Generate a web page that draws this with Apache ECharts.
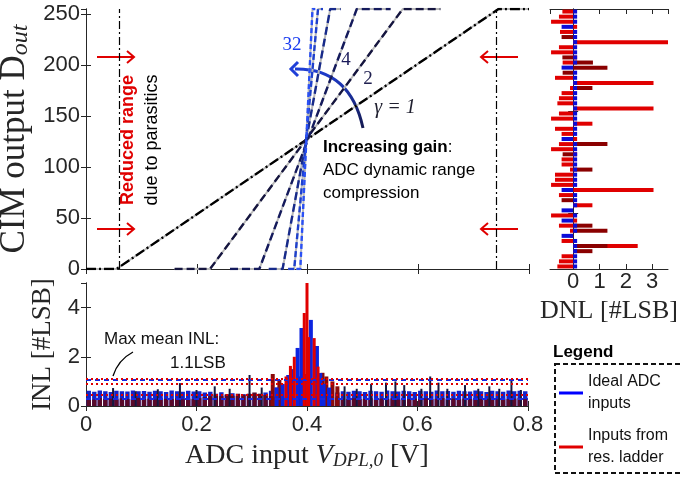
<!DOCTYPE html>
<html><head><meta charset="utf-8">
<script src="https://cdn.jsdelivr.net/npm/echarts@6/dist/echarts.min.js"></script>
<style>html,body{margin:0;padding:0;background:#fff}#c{width:683px;height:480px}</style>
</head><body><div id="c"></div>
<script>
// ---------- DATA ----------
// Transfer curves [ADC input V, D_out] for each gain gamma
const curveG1  = [[0, 0], [0.055, 0], [0.745, 255], [0.8, 255]];
const curveG2  = [[0.16, 0], [0.224, 0], [0.572, 255], [0.64, 255]];
const curveG4  = [[0.26, 0], [0.313, 0], [0.489, 255], [0.55, 255]];
const curveG8  = [[0.33, 0], [0.355, 0], [0.441, 255], [0.46, 255]];
const curveG16 = [[0.365, 0], [0.376, 0], [0.419, 255], [0.428, 255]];
const curveG32 = [[0.38, 0], [0.387, 0], [0.409, 255], [0.414, 255]];
const reducedRangeEdges = [0.055, 0.745];

// DNL rows (code groups, top to bottom)
const dnlCodes = [0,5,10,15,20,25,30,35,40,45,50,55,60,65,70,75,80,85,90,95,100,105,110,115,120,125,130,135,140,145,150,155,160,165,170,175,180,185,190,195,200,205,210,215,220,225,230,235,240,245,250];
const dnlLadder = [-0.41,-0.54,-0.84,0.15,-0.5,0,3.7,-0.54,-0.84,0.15,-0.4,0,0,-0.69,3.05,-0.12,-0.44,-0.54,-0.6,3.05,-0.54,-0.84,0.73,-0.69,-0.44,0.15,-0.54,-0.84,0.15,-0.44,-0.44,-0.12,-0.69,-0.69,-0.84,3.05,-0.54,0,0.73,0,-0.84,0.15,-0.54,-0.12,-0.12,-0.44,2.45,0,-0.44,-0.54,-0.6];
const dnlLadderDark = [0,0,0,0,0,-0.44,0,0,0,-0.41,0.75,1.3,-0.4,0,0,0.73,0,0,0,0,0,0,0,0,0,0,1.3,0,-0.4,0,0,0.73,0,0,0,0,0,-0.44,0,0,0,0,0.73,1.3,0,0,1.3,0.73,0,0,0];
const dnlIdeal = [0.15,0.15,0.15,-0.44,0.15,0.15,0.15,0.15,0.15,0.15,0.15,-0.44,0.15,0.15,0.15,0.15,0.15,0.15,0.15,0.15,0.15,0.15,0.15,0.15,0.15,-0.44,0.15,0.15,0.15,0.15,0.15,0.15,0.15,0.15,0.15,-0.44,0.15,0.15,0.15,-0.44,0.15,-0.44,0.15,0.15,-0.44,0.15,0.15,0.15,0.15,0.15,0.15];

// INL: background band per 10 mV bin
const inlBandIdeal = [0.62,0.58,0.63,0.6,0.57,0.62,0.6,0.59,0.63,0.6,
  0.61,0.58,0.62,0.6,0.57,0.63,0.6,0.58,0.62,0.59,
  0.6,0.55,0.58,0.5,0.56,0.45,0.52,0.4,0.48,0.42,
  0.5,0.45,0.55,0.62,0.75,0.85,1.0,1.1,1.2,1.3,
  1.2,1.05,0.85,0.7,0.62,0.55,0.6,0.58,0.62,0.6,
  0.57,0.62,0.6,0.58,0.63,0.6,0.59,0.62,0.6,0.57,
  0.62,0.6,0.58,0.63,0.6,0.61,0.58,0.62,0.6,0.59,
  0.63,0.6,0.57,0.62,0.6,0.58,0.63,0.6,0.62,0.6];
const inlBandLadder = [0.3,0.26,0.32,0.28,0.3,0.27,0.31,0.28,0.29,0.33,
  0.28,0.3,0.26,0.32,0.29,0.28,0.31,0.27,0.3,0.28,
  0.32,0.36,0.4,0.44,0.4,0.48,0.42,0.5,0.46,0.5,
  0.55,0.5,0.45,0.4,0.38,0.35,0.32,0.3,0.28,0.28,
  0.32,0.36,0.4,0.42,0.38,0.34,0.3,0.28,0.31,0.28,
  0.29,0.32,0.27,0.3,0.28,0.31,0.26,0.3,0.28,0.3,
  0.27,0.31,0.28,0.29,0.32,0.28,0.3,0.27,0.3,0.28,
  0.31,0.28,0.29,0.32,0.27,0.3,0.28,0.3,0.33,0.28];
const inlSpikes = [[0.049,0.73],[0.09,0.6],[0.13,0.68],[0.17,0.93],[0.2,0.65],[0.233,0.8],[0.26,0.7],[0.296,1.26],[0.318,0.75],[0.468,0.8],[0.49,0.7],[0.516,0.9],[0.543,0.95],[0.56,1.0],[0.576,0.85],[0.607,0.7],[0.623,1.2],[0.638,0.95],[0.654,0.7],[0.686,0.85],[0.71,0.7],[0.73,0.8],[0.748,0.7],[0.77,1.05],[0.787,0.65]];
const inlPeakIdeal = [[0.345,0.75],[0.356,0.9],[0.366,1.26],[0.372,1.5],[0.383,2.36],[0.39,3.17],[0.407,3.5],[0.418,2.44],[0.424,1.34],[0.43,0.9],[0.44,0.75]];
const inlPeakLadder = [[0.362,1.2],[0.37,1.63],[0.377,2.0],[0.395,3.78],[0.4,5.2],[0.403,2.8],[0.413,2.76],[0.42,1.6]];
const inlPeakLadderDark = [[0.338,1.3],[0.35,1.06],[0.428,1.35],[0.435,1.2],[0.446,1.0],[0.455,0.8]];
const meanInlLadder = [1.1, 0.89, 0.47];
const meanInlIdeal = [1.06, 0.3];

// ---------- CHART ----------
const axisCol = '#262626';
const tickFont = {fontFamily: 'Liberation Sans', fontSize: 22, color: axisCol};
function valAxis(extra) {
  return Object.assign({
    type: 'value', splitLine: {show: false},
    axisLine: {show: true, lineStyle: {color: axisCol, width: 1}},
    axisTick: {show: true, inside: true, length: 5, lineStyle: {color: axisCol}},
    axisLabel: Object.assign({show: false}, tickFont)
  }, extra);
}
const curveStyles = [
  {name: 'γ = 1', data: curveG1, color: '#000000', dash: [10, 3, 2, 3]},
  {name: 'γ = 2', data: curveG2, color: '#15153f', dash: [8, 4]},
  {name: 'γ = 4', data: curveG4, color: '#141a5c', dash: [8, 4]},
  {name: 'γ = 8', data: curveG8, color: '#172a8a', dash: [8, 4]},
  {name: 'γ = 16', data: curveG16, color: '#1e40cc', dash: [6, 3]},
  {name: 'γ = 32', data: curveG32, color: '#2a50f5', dash: [5, 3]}
];
const bandCenters = inlBandIdeal.map((_, i) => +(0.005 + 0.01 * i).toFixed(3));

const series = [];
curveStyles.forEach((c, i) => {
  const s = {type: 'line', name: c.name + ' ref', xAxisIndex: 0, yAxisIndex: 0, data: c.data, symbol: 'none',
    silent: true, lineStyle: {color: '#b8b8b8', width: 2}, z: 2};
  if (i === 0) {
    s.markLine = {symbol: 'none', silent: true, label: {show: false},
      lineStyle: {color: '#000', width: 1.2, type: [8, 3, 2, 3]},
      data: reducedRangeEdges.map(v => ({xAxis: v}))};
  }
  series.push(s);
});
curveStyles.forEach(c => {
  series.push({type: 'line', name: c.name, xAxisIndex: 0, yAxisIndex: 0, data: c.data, symbol: 'none',
    lineStyle: {color: c.color, width: 2.4, type: c.dash}, z: 3});
});
// DNL
series.push({type: 'bar', name: 'Inputs from res. ladder', xAxisIndex: 2, yAxisIndex: 2, data: dnlLadder, barWidth: 4, barGap: '-100%', clip: true, itemStyle: {color: '#e00000'}});
series.push({type: 'bar', name: 'Inputs from res. ladder', xAxisIndex: 2, yAxisIndex: 2, data: dnlLadderDark, barWidth: 4, barGap: '-100%', clip: true, itemStyle: {color: '#8a0000'}});
series.push({type: 'bar', name: 'Ideal ADC inputs', xAxisIndex: 2, yAxisIndex: 2, data: dnlIdeal, barWidth: 4, barGap: '-100%', clip: true, itemStyle: {color: '#0a0ad8'}});
// INL band
series.push({type: 'bar', name: 'Ideal ADC inputs', xAxisIndex: 4, yAxisIndex: 4, data: bandCenters.map((x, i) => [x, inlBandIdeal[i]]), barWidth: 4.4, barGap: '-100%', clip: true, itemStyle: {color: '#1422c8'}});
series.push({type: 'bar', name: 'Inputs from res. ladder', xAxisIndex: 4, yAxisIndex: 4, data: bandCenters.map((x, i) => [x, inlBandLadder[i]]), barWidth: 4.4, barGap: '-100%', clip: true, itemStyle: {color: '#5a0a2a'}});
series.push({type: 'bar', name: 'INL spikes', xAxisIndex: 6, yAxisIndex: 4, data: inlSpikes, barWidth: 2, clip: true, itemStyle: {color: '#16163e'}});
series.push({type: 'bar', name: 'Inputs from res. ladder', xAxisIndex: 7, yAxisIndex: 4, data: inlPeakLadderDark, barWidth: 4, barGap: '-100%', clip: true, itemStyle: {color: '#8a0a0a'}});
series.push({type: 'bar', name: 'Ideal ADC inputs', xAxisIndex: 7, yAxisIndex: 4, data: inlPeakIdeal, barWidth: 4, barGap: '-100%', clip: true, itemStyle: {color: '#0c24e0'}});
series.push({type: 'bar', name: 'Inputs from res. ladder', xAxisIndex: 8, yAxisIndex: 4, data: inlPeakLadder, barWidth: 3, clip: true, itemStyle: {color: '#e00000'}});
series.push({type: 'line', name: 'mean INL ideal', xAxisIndex: 4, yAxisIndex: 4, data: [], z: 5,
  markLine: {symbol: 'none', silent: true, label: {show: false}, lineStyle: {color: '#1a28e0', width: 2.2, type: [5, 4]},
    data: meanInlIdeal.map(v => ({yAxis: v}))}});
series.push({type: 'line', name: 'mean INL ladder', xAxisIndex: 4, yAxisIndex: 4, data: [], z: 6,
  markLine: {symbol: 'none', silent: true, label: {show: false}, lineStyle: {color: '#e00000', width: 2.2, type: [2, 3]},
    data: meanInlLadder.map(v => ({yAxis: v}))}});

const dnlTickFn = (i) => i === 20 || i === 40;
const serif = 'Liberation Serif';

const option = {
  animation: false,
  backgroundColor: '#ffffff',
  grid: [
    {left: 86, top: 9, width: 443, height: 260, containLabel: false, outerBoundsMode: 'none'},
    {left: 550, top: 9, width: 118, height: 260, containLabel: false, outerBoundsMode: 'none'},
    {left: 86, top: 283, width: 442, height: 123, containLabel: false, outerBoundsMode: 'none'}
  ],
  xAxis: [
    valAxis({gridIndex: 0, min: 0, max: 0.8, interval: 0.2, position: 'bottom'}),
    valAxis({gridIndex: 0, min: 0, max: 0.8, interval: 0.2, position: 'top'}),
    valAxis({gridIndex: 1, min: -0.88, max: 3.6, position: 'bottom',
      axisLabel: Object.assign({show: true, margin: 2, showMinLabel: false, showMaxLabel: false}, tickFont),
      name: 'DNL [#LSB]', nameLocation: 'middle', nameGap: 26,
      nameTextStyle: {fontFamily: serif, fontSize: 26, color: axisCol}}),
    valAxis({gridIndex: 1, min: -0.88, max: 3.6, position: 'top'}),
    valAxis({gridIndex: 2, min: 0, max: 0.8, interval: 0.2, position: 'bottom',
      axisLabel: Object.assign({show: true, margin: 8}, tickFont),
      name: 'ADC input {it|V}{sub|DPL,0} [V]', nameLocation: 'middle', nameGap: 36,
      nameTextStyle: {fontFamily: serif, fontSize: 28, color: axisCol,
        rich: {it: {fontFamily: serif, fontSize: 28, fontStyle: 'italic', color: axisCol},
               sub: {fontFamily: serif, fontSize: 19, fontStyle: 'italic', color: axisCol, verticalAlign: 'bottom', lineHeight: 14}}}}),
    valAxis({gridIndex: 2, min: 0, max: 0.8, interval: 0.2, position: 'top'}),
    {type: 'value', gridIndex: 2, min: 0, max: 0.8, show: false},
    {type: 'value', gridIndex: 2, min: 0, max: 0.8, show: false},
    {type: 'value', gridIndex: 2, min: 0, max: 0.8, show: false}
  ],
  yAxis: [
    valAxis({gridIndex: 0, min: 0, max: 255, interval: 50, position: 'left',
      axisLabel: Object.assign({show: true, margin: 6}, tickFont),
      name: 'CIM output D{sub|out}', nameLocation: 'middle', nameGap: 50, nameRotate: 90,
      nameTextStyle: {fontFamily: serif, fontSize: 35, color: axisCol,
        rich: {sub: {fontFamily: serif, fontSize: 24, fontStyle: 'italic', color: axisCol, verticalAlign: 'bottom', lineHeight: 16}}}}),
    valAxis({gridIndex: 0, min: 0, max: 255, interval: 50, position: 'right'}),
    {type: 'category', gridIndex: 1, data: dnlCodes, inverse: true, position: 'left',
      axisLine: {show: true, lineStyle: {color: axisCol}}, axisLabel: {show: false},
      axisTick: {show: true, inside: true, length: 5, interval: dnlTickFn, lineStyle: {color: axisCol}}},
    {type: 'category', gridIndex: 1, data: dnlCodes, inverse: true, position: 'right',
      axisLine: {show: true, lineStyle: {color: axisCol}}, axisLabel: {show: false},
      axisTick: {show: true, inside: true, length: 5, interval: dnlTickFn, lineStyle: {color: axisCol}}},
    valAxis({gridIndex: 2, min: 0, max: 5, interval: 2, position: 'left',
      axisLabel: Object.assign({show: true, margin: 6, showMaxLabel: false}, tickFont),
      name: 'INL [#LSB]', nameLocation: 'middle', nameGap: 30, nameRotate: 90,
      nameTextStyle: {fontFamily: serif, fontSize: 27, color: axisCol}}),
    valAxis({gridIndex: 2, min: 0, max: 5, interval: 2, position: 'right'})
  ],
  legend: {
    left: 559, top: 371, orient: 'vertical', padding: 0, itemGap: 10,
    itemWidth: 24, itemHeight: 3, icon: 'rect', selectedMode: false,
    textStyle: {fontFamily: 'Liberation Sans', fontSize: 16, lineHeight: 22, color: '#111'},
    formatter: n => n === 'Ideal ADC inputs' ? 'Ideal ADC\ninputs' : 'Inputs from\nres. ladder',
    data: [{name: 'Ideal ADC inputs', itemStyle: {color: '#0000ff'}},
           {name: 'Inputs from res. ladder', itemStyle: {color: '#e00000'}}]
  },
  graphic: [
    {type: 'polyline', shape: {points: [[97, 57], [134, 57]]}, style: {stroke: '#e00000', lineWidth: 2}},
    {type: 'polyline', shape: {points: [[127, 51], [134, 57], [127, 63]]}, style: {stroke: '#e00000', lineWidth: 2, fill: 'none'}},
    {type: 'polyline', shape: {points: [[97, 229], [134, 229]]}, style: {stroke: '#e00000', lineWidth: 2}},
    {type: 'polyline', shape: {points: [[127, 223], [134, 229], [127, 235]]}, style: {stroke: '#e00000', lineWidth: 2, fill: 'none'}},
    {type: 'polyline', shape: {points: [[518, 57], [481, 57]]}, style: {stroke: '#e00000', lineWidth: 2}},
    {type: 'polyline', shape: {points: [[488, 51], [481, 57], [488, 63]]}, style: {stroke: '#e00000', lineWidth: 2, fill: 'none'}},
    {type: 'polyline', shape: {points: [[518, 229], [481, 229]]}, style: {stroke: '#e00000', lineWidth: 2}},
    {type: 'polyline', shape: {points: [[488, 223], [481, 229], [488, 235]]}, style: {stroke: '#e00000', lineWidth: 2, fill: 'none'}},
    {type: 'text', x: 128, y: 140, rotation: Math.PI / 2,
      style: {text: 'Reduced range', x: 0, y: 0, fill: '#e00000', font: 'bold 18px "Liberation Sans"', textAlign: 'center', textVerticalAlign: 'middle'}},
    {type: 'text', x: 152, y: 140, rotation: Math.PI / 2,
      style: {text: 'due to parasitics', x: 0, y: 0, fill: '#000', font: '18px "Liberation Sans"', textAlign: 'center', textVerticalAlign: 'middle'}},
    {type: 'text', style: {text: '32', x: 292, y: 45, fill: '#1a3cf0', font: '19px "Liberation Serif"', textAlign: 'center', textVerticalAlign: 'middle'}},
    {type: 'text', style: {text: '4', x: 346, y: 60, fill: '#1a1a5a', font: '19px "Liberation Serif"', textAlign: 'center', textVerticalAlign: 'middle'}},
    {type: 'text', style: {text: '2', x: 368, y: 79, fill: '#202050', font: '19px "Liberation Serif"', textAlign: 'center', textVerticalAlign: 'middle'}},
    {type: 'text', style: {text: 'γ = 1', x: 395, y: 108, fill: '#202030', font: 'italic 20px "Liberation Serif"', textAlign: 'center', textVerticalAlign: 'middle'}},
    {type: 'bezierCurve', shape: {x1: 363, y1: 128, cpx1: 350, cpy1: 68, x2: 295, y2: 69},
      style: {stroke: {type: 'linear', x: 0, y: 1, x2: 0, y2: 0, colorStops: [{offset: 0, color: '#14184a'}, {offset: 1, color: '#1f3fd8'}]}, lineWidth: 3, fill: 'none'}},
    {type: 'polyline', shape: {points: [[298, 62], [291, 69], [298, 76]]}, style: {stroke: '#1f3fd8', lineWidth: 3, fill: 'none'}},
    {type: 'text', style: {text: '{b|Increasing gain}:\nADC dynamic range\ncompression', x: 323, y: 136,
      fill: '#000', font: '17px "Liberation Sans"', lineHeight: 23, textAlign: 'left', textVerticalAlign: 'top',
      rich: {b: {fontWeight: 'bold', fontSize: 17, fontFamily: 'Liberation Sans', fill: '#000'}}}},
    {type: 'text', style: {text: 'Max mean INL:', x: 104, y: 339, fill: '#111', font: '17px "Liberation Sans"', textAlign: 'left', textVerticalAlign: 'middle'}},
    {type: 'text', style: {text: '1.1LSB', x: 170, y: 363, fill: '#111', font: '17px "Liberation Sans"', textAlign: 'left', textVerticalAlign: 'middle'}},
    {type: 'bezierCurve', shape: {x1: 113, y1: 376, cpx1: 118, cpy1: 360, x2: 133, y2: 352}, style: {stroke: '#000', lineWidth: 1.3, fill: 'none'}},
    {type: 'text', style: {text: 'Legend', x: 553, y: 352, fill: '#000', font: 'bold 17px "Liberation Sans"', textAlign: 'left', textVerticalAlign: 'middle'}},
    {type: 'rect', shape: {x: 555, y: 364, width: 140, height: 109}, style: {fill: 'none', stroke: '#111', lineWidth: 2, lineDash: [5, 3]}}
  ],
  series: series
};
const chart = echarts.init(document.getElementById('c'), null, {renderer: 'canvas'});
chart.setOption(option);
</script></body></html>
